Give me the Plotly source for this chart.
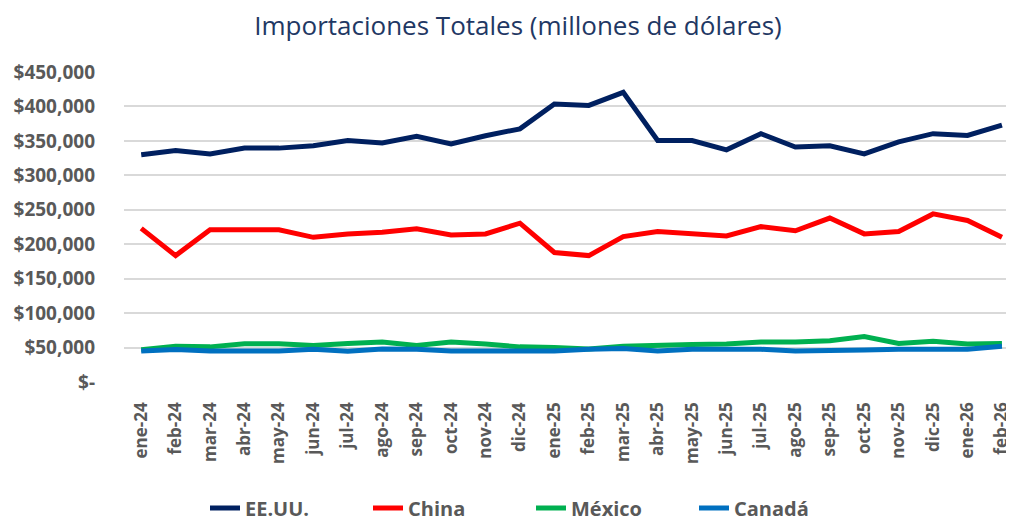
import plotly.graph_objects as go

months = ["ene-24","feb-24","mar-24","abr-24","may-24","jun-24","jul-24","ago-24","sep-24","oct-24","nov-24","dic-24",
          "ene-25","feb-25","mar-25","abr-25","may-25","jun-25","jul-25","ago-25","sep-25","oct-25","nov-25","dic-25",
          "ene-26","feb-26"]

eeuu = [330000, 336000, 331000, 339500, 339500, 343000, 350500, 347000, 356500, 345500, 357500, 367500,
        403500, 401500, 420500, 350500, 350500, 337000, 360500, 341000, 343000, 331000, 348500, 360500,
        358000, 373000]
china = [223000, 183500, 221000, 221000, 221000, 210000, 215000, 217500, 222500, 213500, 215000, 230500,
         188000, 183500, 211000, 218500, 214500, 212000, 225500, 219500, 238000, 215000, 218500, 244000,
         234500, 210000]
mexico = [47000, 52000, 51000, 55500, 55500, 53000, 56000, 58000, 53000, 58000, 55000, 51000,
          50000, 48000, 52000, 54000, 54500, 55000, 58000, 58000, 60000, 66000, 56000, 59000,
          55000, 56000]
canada = [45000, 47000, 45000, 45000, 45000, 47500, 44500, 48000, 47500, 45000, 45000, 45000,
          45000, 47500, 48500, 45000, 47500, 47500, 47500, 45000, 45000, 46500, 47500, 47500,
          47500, 52000]

series_names = ["EE.UU.", "China", "México", "Canadá"]
series_colors = ["#002060", "#FF0000", "#00B050", "#0070C0"]

y_tickvals = [0, 50000, 100000, 150000, 200000, 250000, 300000, 350000, 400000, 450000]
y_ticktext = ["$-", "$50,000", "$100,000", "$150,000", "$200,000", "$250,000", "$300,000", "$350,000", "$400,000", "$450,000"]

title_text = "Importaciones Totales (millones de dólares)"

fig = go.Figure()
for name, vals, col in zip(series_names, [eeuu, china, mexico, canada], series_colors):
    fig.add_trace(go.Scatter(x=months, y=vals, name=name, mode="lines",
                             line=dict(color=col, width=5), hoverinfo="x+y+name"))

font_main = "Open Sans, Liberation Sans, sans-serif"
W, H = 1006, 514  # page body adds an 8px margin

fig.update_layout(
    width=W, height=H,
    paper_bgcolor="white", plot_bgcolor="white",
    margin=dict(l=116, r=0, t=64, b=140, autoexpand=False),
    title=dict(text=title_text, x=510 / W, xanchor="center", xref="container",
               y=1 - 18 / H, yanchor="middle", yref="container",
               font=dict(family=font_main, size=26, color="#1F3864")),
    showlegend=True,
    legend=dict(orientation="h", x=197 / W, xanchor="left", xref="container",
                y=(H - 500) / H, yanchor="middle", yref="container",
                font=dict(family=font_main, size=20, color="#595959", weight="bold"),
                entrywidth=118, entrywidthmode="pixels",
                tracegroupgap=0),
    xaxis=dict(type="category", range=[-0.5, 25.35], showgrid=False, showline=False, zeroline=False,
               tickangle=-90, ticks="", ticklen=0, ticklabelstandoff=16, ticklabeloverflow="allow",
               tickfont=dict(family=font_main, size=17, color="#595959", weight="bold")),
    yaxis=dict(range=[0, 450000], tickvals=y_tickvals, ticktext=y_ticktext,
               showgrid=True, gridcolor="#D9D9D9", gridwidth=1.5, zeroline=False, showline=False,
               ticks="", ticklabelstandoff=28,
               tickfont=dict(family=font_main, size=19, color="#595959", weight="bold")),
)

fig.write_html("out.html")
